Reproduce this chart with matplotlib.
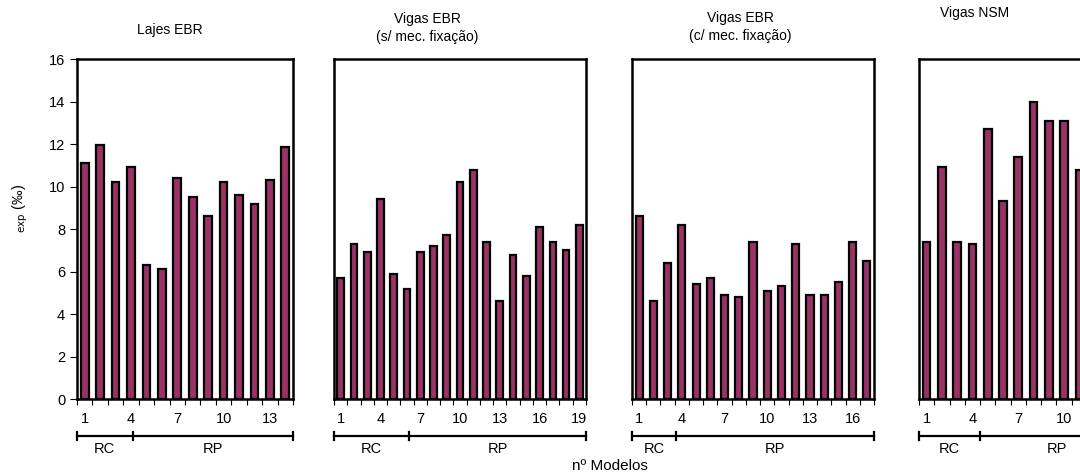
import numpy as np
import matplotlib
matplotlib.use("Agg")
import matplotlib.pyplot as plt
from matplotlib.transforms import blended_transform_factory

plt.rcParams['font.family'] = ['Liberation Sans', 'DejaVu Sans']

# values (exp strain, per mil)
lajes_ebr = [11.1, 11.95, 10.2, 10.9, 6.3, 6.1, 10.4, 9.5, 8.6, 10.2, 9.6, 9.2, 10.3, 11.85]
vigas_ebr_s = [5.7, 7.3, 6.9, 9.4, 5.9, 5.2, 6.9, 7.2, 7.7, 10.2, 10.8, 7.4, 4.6, 6.8, 5.8,
               8.1, 7.4, 7.0, 8.2]
vigas_ebr_c = [8.6, 4.6, 6.4, 8.2, 5.4, 5.7, 4.9, 4.8, 7.4, 5.1, 5.3, 7.3, 4.9, 4.9, 5.5,
               7.4, 6.5]
vigas_nsm = [7.4, 10.9, 7.4, 7.3, 12.7, 9.3, 11.4, 14.0, 13.1, 13.1, 10.8]

titles = ["Lajes EBR", "Vigas EBR\n(s/ mec. fixação)", "Vigas EBR\n(c/ mec. fixação)", "Vigas NSM"]
n_cells = [14, 19, 17, 14]
# last labelled model number on each axis (the 4th panel is cut off)
last_label = [13, 19, 16, 10]
# where the RC | RP split sits on each x axis (bar units)
split_at = [4.1, 6.15, 3.57, 4.5]
series = [lajes_ebr, vigas_ebr_s, vigas_ebr_c, vigas_nsm]

bar_color = '#993366'

fig = plt.figure(figsize=(10.8, 4.74), dpi=100)

bottom, height = 0.1582, 0.7173
lefts = [0.0713, 0.3093, 0.5852, 0.8509]
widths = [0.2, 0.2333, 0.2241, 0.198]

for i, vals in enumerate(series):
    ax = fig.add_axes([lefts[i], bottom, widths[i], height])
    x = np.arange(1, len(vals) + 1)
    ax.bar(x, vals, width=0.5, color=bar_color, edgecolor='black', linewidth=1.6)
    n = n_cells[i]
    ax.set_xlim(0.5, n + 0.5)
    ax.set_ylim(0, 16)

    for sp in ax.spines.values():
        sp.set_linewidth(1.8)

    # small tick marks on cell boundaries, labels every third bar
    ax.set_xticks(np.arange(0.5, n + 1, 1.0))
    ax.set_xticklabels([])
    ax.tick_params(axis='x', which='major', direction='out', length=4, width=0.8)
    lab = list(range(1, last_label[i] + 1, 3))
    ax.set_xticks(lab, minor=True)
    ax.set_xticklabels([str(v) for v in lab], minor=True)
    ax.tick_params(axis='x', which='minor', length=0, pad=9, labelsize=10.5)

    if i == 0:
        ax.set_yticks(np.arange(0, 17, 2))
        ax.tick_params(axis='y', direction='out', length=5, width=0.8, labelsize=10.5)
    else:
        ax.set_yticks([])

    # RC / RP brackets under the axis
    tr = blended_transform_factory(ax.transData, ax.transAxes)
    yb = -0.109
    ax.plot([0.5, n + 0.5], [yb, yb], color='black', lw=1.6, transform=tr, clip_on=False)
    for xc in [0.5, split_at[i], n + 0.5]:
        ax.plot([xc, xc], [yb - 0.013, yb + 0.013], color='black', lw=1.6,
                transform=tr, clip_on=False)
    ax.text((0.5 + split_at[i]) / 2, -0.148, "RC", transform=tr, ha='center',
            va='center', fontsize=10.5)
    ax.text((split_at[i] + n + 0.5) / 2, -0.148, "RP", transform=tr, ha='center',
            va='center', fontsize=10.5)

# panel titles
fig.text(170 / 1080, 1 - 30 / 474, titles[0], ha='center', va='center', fontsize=10)
fig.text(427 / 1080, 1 - 28 / 474, titles[1], ha='center', va='center', fontsize=10,
         linespacing=1.3)
fig.text(740 / 1080, 1 - 27 / 474, titles[2], ha='center', va='center', fontsize=10,
         linespacing=1.3)
fig.text(975 / 1080, 1 - 13 / 474, titles[3], ha='center', va='center', fontsize=10)

fig.text(610 / 1080, 1 - 466 / 474, "nº Modelos", ha='center', va='center', fontsize=11)
fig.text(20 / 1080, 0.56, r'$_{\mathrm{exp}}$ (‰)', rotation=90, ha='center',
         va='center', fontsize=10.5)

fig.savefig("out.png", dpi=100, facecolor='white')
